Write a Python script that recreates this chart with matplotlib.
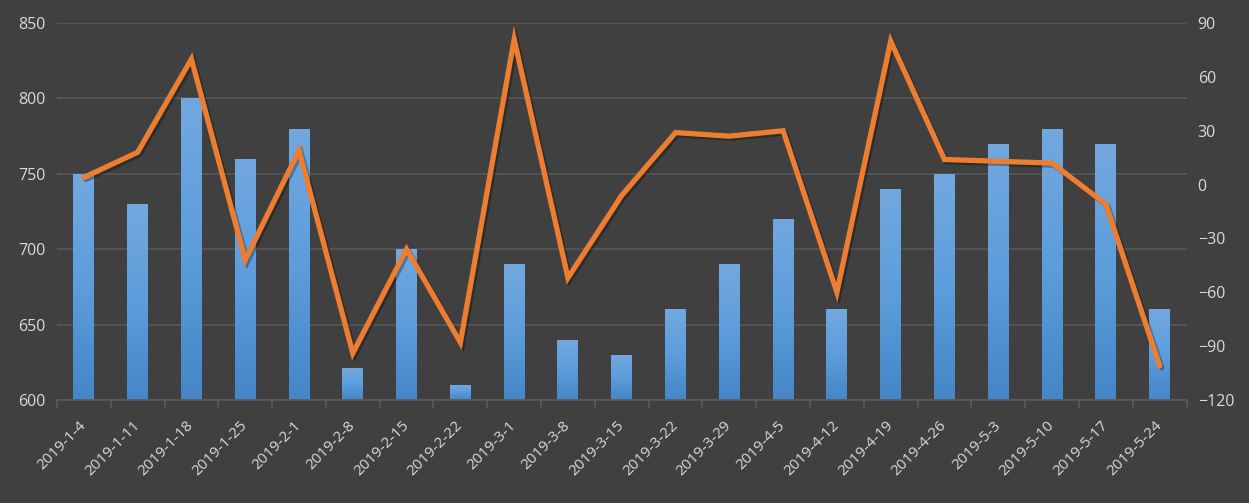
import matplotlib
matplotlib.use("Agg")
import matplotlib.pyplot as plt
import matplotlib.patheffects as pe
import matplotlib.transforms as mtransforms
import numpy as np
from matplotlib.colors import LinearSegmentedColormap

dates = ["2019-1-4", "2019-1-11", "2019-1-18", "2019-1-25", "2019-2-1", "2019-2-8",
         "2019-2-15", "2019-2-22", "2019-3-1", "2019-3-8", "2019-3-15", "2019-3-22",
         "2019-3-29", "2019-4-5", "2019-4-12", "2019-4-19", "2019-4-26", "2019-5-3",
         "2019-5-10", "2019-5-17", "2019-5-24"]
bar_values = [750, 730, 800, 760, 780, 621, 700, 610, 690, 640, 630, 660,
              690, 720, 660, 740, 750, 770, 780, 770, 660]
line_values = [4, 18, 70, -42, 19, -94, -36, -88, 81, -52, -6, 29,
               27, 30, -60, 80, 14, 13, 12, -11, -101]

BG = "#404040"
GRID = "#575757"
TXT = "#d9d9d9"
ORANGE = "#ED7D31"

plt.rcParams['font.family'] = ['Open Sans', 'DejaVu Sans']

fig = plt.figure(figsize=(12.49, 5.03), dpi=100)
fig.patch.set_facecolor(BG)
ax = fig.add_axes([0.0456, 0.205, 0.9044, 0.749])
ax.set_facecolor(BG)

x = np.arange(len(dates))
width = 0.39
bars = ax.bar(x, bar_values, width=width, color="#5b9bd5", zorder=2, bottom=0)

cmap = LinearSegmentedColormap.from_list("g", ["#4486c6", "#5d9ddc", "#72a8de"])
grad = np.linspace(0, 1, 256).reshape(-1, 1)
for b in bars:
    x0 = b.get_x()
    w = b.get_width()
    h = b.get_height()
    im = ax.imshow(grad, cmap=cmap, origin="lower", aspect="auto",
                   extent=(x0, x0 + w, 600, h), zorder=2.1)
    im.set_clip_path(b)
ax.set_xlim(-0.5, len(dates) - 0.5)
ax.set_ylim(600, 850)

ax.set_yticks([600, 650, 700, 750, 800, 850])
ax.grid(axis="y", color=GRID, linewidth=1.2, zorder=0)
ax.set_axisbelow(True)

for s in ["left", "right", "top"]:
    ax.spines[s].set_visible(False)
ax.spines["bottom"].set_color("#5a5a5a")
ax.spines["bottom"].set_linewidth(1.2)

ax.set_xticks(np.arange(-0.5, len(dates), 1.0))
ax.set_xticklabels([])
ax.set_xticks(x, minor=True)
ax.set_xticklabels(dates, minor=True, rotation=45, ha="right", va="center",
                   rotation_mode="anchor", color=TXT, fontsize=11)
offset = mtransforms.ScaledTranslation(-8 / 100, 0, fig.dpi_scale_trans)
for lbl in ax.get_xticklabels(minor=True):
    lbl.set_transform(lbl.get_transform() + offset)
ax.tick_params(axis="x", which="major", length=6, color="#5a5a5a", width=1.2)
ax.tick_params(axis="x", which="minor", length=0, pad=17)
ax.tick_params(axis="y", length=0, labelcolor=TXT, labelsize=11.5, pad=8)

ax2 = ax.twinx()
ax2.set_ylim(-120, 90)
ax2.set_yticks(np.arange(-120, 91, 30))
for s in ["left", "right", "top", "bottom"]:
    ax2.spines[s].set_visible(False)
ax2.tick_params(axis="y", length=0, labelcolor=TXT, labelsize=11.5, pad=8)
ax2.plot(x, line_values, color=ORANGE, linewidth=3.8, solid_joinstyle="miter",
         solid_capstyle="round", zorder=5,
         path_effects=[pe.SimpleLineShadow(offset=(1.5, -1.5), shadow_color="black", alpha=0.3),
                       pe.Normal()])

fig.savefig("out.png", dpi=100, facecolor=BG)
